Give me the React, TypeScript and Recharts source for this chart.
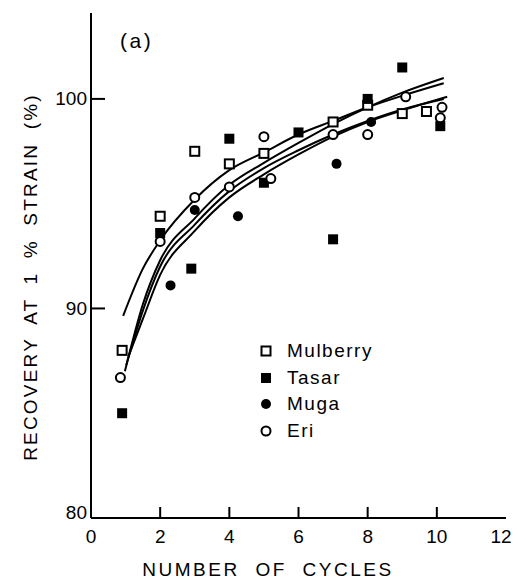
import { ComposedChart, Line, Scatter, XAxis, YAxis, Label } from "recharts";

const cycleTicks = [0, 2, 4, 6, 8, 10, 12];
const recoveryTicks = [80, 90, 100];

// measured points
const mulberryX = [0.9, 2, 3, 4, 5, 7, 8, 9, 9.7];
const mulberryY = [88.0, 94.4, 97.5, 96.9, 97.4, 98.9, 99.7, 99.3, 99.4];
const tasarX = [0.9, 2, 2.9, 4, 5, 6, 7, 8, 9, 10.1];
const tasarY = [85.0, 93.6, 91.9, 98.1, 96.0, 98.4, 93.3, 100.0, 101.5, 98.7];
const mugaX = [2.3, 3, 4.25, 7.1, 8.1];
const mugaY = [91.1, 94.7, 94.4, 96.9, 98.9];
const eriX = [0.85, 2, 3, 4, 5, 5.2, 7, 8, 9.1, 10.15, 10.1];
const eriY = [86.7, 93.2, 95.3, 95.8, 98.2, 96.2, 98.3, 98.3, 100.1, 99.6, 99.1];

// fitted curves
const fitAX = [0.93, 1.5, 2, 3, 4, 5, 6, 7, 8, 9, 10.2];
const fitAY = [89.65, 91.9, 93.25, 95.2, 96.6, 97.45, 98.3, 98.95, 99.6, 100.15, 100.75];
const fitBX = [0.98, 1.5, 2, 3, 4, 5, 6, 7, 8, 9, 10.2];
const fitBY = [87.0, 90.2, 92.3, 94.3, 95.9, 96.95, 97.9, 98.8, 99.6, 100.3, 101.0];
const fitCX = [1.02, 1.5, 2, 3, 4, 5, 6, 7, 8, 9, 10.2];
const fitCY = [87.3, 89.9, 92.0, 94.0, 95.6, 96.7, 97.55, 98.3, 98.95, 99.5, 100.0];
const fitDX = [1.08, 1.5, 2, 3, 4, 5, 6, 7, 8, 9, 10.3];
const fitDY = [87.7, 89.5, 91.6, 93.7, 95.3, 96.4, 97.35, 98.2, 98.9, 99.45, 100.1];

const zip = (xs: number[], ys: number[]) => xs.map((x, i) => ({ x, y: ys[i] }));

const FONT = "'Liberation Sans', Arial, sans-serif";

const OpenSquare = ({ cx, cy }: any) => (
  <rect x={cx - 4.5} y={cy - 4.5} width={9} height={9} fill="#fff" stroke="#000" strokeWidth={2} />
);
const FilledSquare = ({ cx, cy }: any) => (
  <rect x={cx - 5} y={cy - 5} width={10} height={10} fill="#000" />
);
const FilledCircle = ({ cx, cy }: any) => <circle cx={cx} cy={cy} r={5} fill="#000" />;
const OpenCircle = ({ cx, cy }: any) => (
  <circle cx={cx} cy={cy} r={4.5} fill="#fff" stroke="#000" strokeWidth={2} />
);

const YTick = ({ x, y, payload }: any) => (
  <g>
    {payload.value !== 80 && <line x1={x} x2={x + 14} y1={y} y2={y} stroke="#000" strokeWidth={2} />}
    <text
      x={x - 4}
      y={payload.value === 80 ? y - 6 : y}
      textAnchor="end"
      dominantBaseline="central"
      fontSize={19}
      fontFamily={FONT}
      fill="#000"
    >
      {payload.value}
    </text>
  </g>
);

const XTick = ({ x, y, payload }: any) => (
  <g>
    {payload.value !== 0 && payload.value !== 12 && (
      <line x1={x} x2={x} y1={y} y2={y - 11} stroke="#000" strokeWidth={2} />
    )}
    <text
      x={payload.value === 12 ? x - 5 : x}
      y={y + 18}
      textAnchor="middle"
      dominantBaseline="central"
      fontSize={19}
      fontFamily={FONT}
      fill="#000"
    >
      {payload.value}
    </text>
  </g>
);

const legendItems = [
  { name: "Mulberry", Shape: OpenSquare },
  { name: "Tasar", Shape: FilledSquare },
  { name: "Muga", Shape: FilledCircle },
  { name: "Eri", Shape: OpenCircle },
];

export default function App() {
  const lineProps = {
    type: "monotone" as const,
    dataKey: "y",
    stroke: "#000",
    strokeWidth: 2,
    dot: false,
    isAnimationActive: false,
    legendType: "none" as const,
  };

  return (
    <div style={{ position: "absolute", left: 0, top: 0, width: 515, height: 580, background: "#fff" }}>
      <ComposedChart width={515} height={580} margin={{ top: 13, right: 9, left: 31, bottom: 22 }}>
        <XAxis
          dataKey="x"
          type="number"
          domain={[0, 12]}
          ticks={cycleTicks}
          height={40}
          tickSize={0}
          tickMargin={0}
          tick={<XTick />}
          axisLine={{ stroke: "#000", strokeWidth: 2 }}
          allowDataOverflow
        >
          <Label
            content={() => (
              <text
                x={268}
                y={576}
                textAnchor="middle"
                fontSize={19}
                fontFamily={FONT}
                letterSpacing={2.5}
                wordSpacing={8}
                fill="#000"
              >
                NUMBER OF CYCLES
              </text>
            )}
          />
        </XAxis>
        <XAxis xAxisId="top" orientation="top" type="number" domain={[0, 12]} height={0} tick={false} tickLine={false} axisLine={{ stroke: "#000", strokeWidth: 2 }} />
        <YAxis
          dataKey="y"
          type="number"
          domain={[80, 104.1]}
          ticks={recoveryTicks}
          width={60}
          tickSize={0}
          tickMargin={0}
          tick={<YTick />}
          axisLine={{ stroke: "#000", strokeWidth: 2 }}
          allowDataOverflow
        >
          <Label
            content={() => (
              <text
                x={37}
                y={277}
                transform="rotate(-90 37 277)"
                textAnchor="middle"
                fontSize={19}
                fontFamily={FONT}
                letterSpacing={2.2}
                wordSpacing={6}
                fill="#000"
              >
                RECOVERY AT 1 % STRAIN (%)
              </text>
            )}
          />
        </YAxis>
        <YAxis yAxisId="right" orientation="right" type="number" domain={[80, 104.1]} width={0} tick={false} tickLine={false} axisLine={{ stroke: "#000", strokeWidth: 2 }} />

        <Line {...lineProps} data={zip(fitAX, fitAY)} name="fitA" />
        <Line {...lineProps} data={zip(fitBX, fitBY)} name="fitB" />
        <Line {...lineProps} data={zip(fitCX, fitCY)} name="fitC" />
        <Line {...lineProps} data={zip(fitDX, fitDY)} name="fitD" />

        <Scatter name="Mulberry" data={zip(mulberryX, mulberryY)} dataKey="y" shape={<OpenSquare />} isAnimationActive={false} />
        <Scatter name="Tasar" data={zip(tasarX, tasarY)} dataKey="y" shape={<FilledSquare />} isAnimationActive={false} />
        <Scatter name="Muga" data={zip(mugaX, mugaY)} dataKey="y" shape={<FilledCircle />} isAnimationActive={false} />
        <Scatter name="Eri" data={zip(eriX, eriY)} dataKey="y" shape={<OpenCircle />} isAnimationActive={false} />
      </ComposedChart>

      <div style={{ position: "absolute", left: 120, top: 29, fontFamily: FONT, fontSize: 21, letterSpacing: 2.5 }}>(a)</div>

      <div style={{ position: "absolute", left: 259, top: 338, fontFamily: FONT, fontSize: 19 }}>
        {legendItems.map(({ name, Shape }) => (
          <div key={name} style={{ display: "flex", alignItems: "center", height: 26.5 }}>
            <svg width={14} height={14}>
              <Shape cx={7} cy={7} />
            </svg>
            <span style={{ marginLeft: 14, letterSpacing: 1.5 }}>{name}</span>
          </div>
        ))}
      </div>
    </div>
  );
}
